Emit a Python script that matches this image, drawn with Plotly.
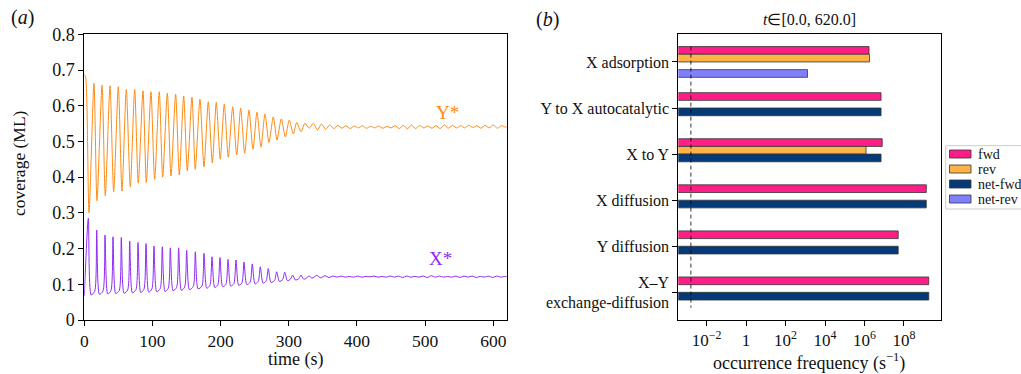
import plotly.graph_objects as go

# ---------------- data: panel (a) ----------------
# Y* coverage: successive extremes
y_t = [0.0, 2.0, 6.9,
       14.2, 18.6, 26.0, 30.8, 37.7, 43.1, 49.9, 55.3, 61.6, 67.5, 73.9, 79.2,
       86.1, 91.0, 97.8, 103.2, 110.0, 115.0, 121.8, 127.2, 134.0, 139.4,
       145.8, 151.1, 158.0, 162.8, 169.7, 175.6, 181.9, 187.8, 193.6, 199.5,
       205.4, 211.2, 217.7, 223.6, 229.4, 235.3, 241.6, 247.5, 253.3, 259.2,
       265.1, 270.9, 277.3, 282.7, 289.0, 294.9, 300.7, 306.6, 311.6, 317.9,
       323.7, 330.0, 336.0,
       342, 348, 354, 360, 366, 372, 378, 384, 390, 396, 402, 408, 414, 420,
       426, 432, 438, 444, 450, 456, 462, 468, 474, 480, 486, 492, 498, 504,
       510, 516, 522, 528, 534, 540, 546, 552, 558, 564, 570, 576, 582, 588,
       594, 600, 606, 612, 618, 620]
y_v = [0.688, 0.680, 0.300,
       0.663, 0.334, 0.658, 0.348, 0.656, 0.359, 0.653, 0.361, 0.646, 0.373,
       0.646, 0.383, 0.642, 0.385, 0.639, 0.394, 0.639, 0.400, 0.635, 0.403,
       0.632, 0.406, 0.627, 0.418, 0.624, 0.422, 0.618, 0.429, 0.611, 0.440,
       0.609, 0.450, 0.605, 0.456, 0.597, 0.462, 0.593, 0.467, 0.588, 0.478,
       0.582, 0.484, 0.577, 0.497, 0.569, 0.504, 0.563, 0.513, 0.560, 0.521,
       0.553, 0.527, 0.551, 0.537, 0.551,
       0.532, 0.549, 0.534, 0.546, 0.536, 0.545, 0.537, 0.544, 0.536, 0.543,
       0.538, 0.544, 0.537, 0.542, 0.538, 0.543, 0.537, 0.542, 0.538, 0.544,
       0.536, 0.545, 0.535, 0.546, 0.536, 0.545, 0.538, 0.543, 0.537, 0.544,
       0.536, 0.546, 0.537, 0.545, 0.538, 0.544, 0.538, 0.545, 0.539, 0.544,
       0.537, 0.545, 0.538, 0.546, 0.537, 0.544, 0.540, 0.541]

# X* coverage: spikes, trough bottoms and shoulders
x_t = [0.0,
       5.9, 10.0, 15.2, 18.2, 22.2, 27.4, 30.4, 34.4, 39.1, 42.1, 46.1, 51.3,
       54.3, 58.3, 63.6, 66.6, 70.6, 75.8, 78.8, 82.8, 87.5, 90.5, 94.5, 99.2,
       102.2, 106.2, 111.4, 114.4, 118.4, 123.2, 126.2, 130.2, 135.4,
       138.4, 142.4, 147.2, 150.2, 154.2, 159.9, 162.9, 166.9, 172.6,
       175.6, 179.6, 184.3, 187.3, 191.3, 196.0, 199.0, 203.0, 207.8,
       210.8, 214.8, 219.5, 222.5, 226.5, 231.3, 234.3, 238.3, 243.4,
       246.4, 250.4, 255.2, 258.2, 262.2, 266.9, 269.9, 273.9, 279.2,
       282.2, 286.2, 291.0, 294.0, 298.0, 302.7, 305.7, 309.7, 314.9,
       317.9, 321.9, 326.6, 329.6, 334.0,
       341, 347, 353, 359, 365, 371, 377, 383, 389, 395, 401, 407, 413, 419,
       425, 431, 437, 443, 449, 455, 461, 467, 473, 479, 485, 491, 497, 503,
       509, 515, 521, 527, 533, 539, 545, 551, 557, 563, 569, 575, 581, 587,
       593, 599, 605, 611, 617, 620]
x_v = [0.068,
       0.285, 0.070, 0.080, 0.252, 0.072, 0.081, 0.238, 0.073, 0.082,
       0.233, 0.074, 0.083, 0.231, 0.075, 0.084, 0.221, 0.076, 0.085,
       0.217, 0.077, 0.086, 0.214, 0.078, 0.087, 0.207, 0.079, 0.088,
       0.205, 0.080, 0.089, 0.202, 0.082, 0.091, 0.202, 0.083, 0.092,
       0.195, 0.085, 0.094, 0.191, 0.087, 0.095, 0.187, 0.089, 0.097,
       0.177, 0.091, 0.099, 0.175, 0.093, 0.100, 0.170, 0.095, 0.102,
       0.168, 0.097, 0.104, 0.162, 0.099, 0.106, 0.157, 0.101, 0.108,
       0.149, 0.103, 0.110, 0.144, 0.105, 0.111, 0.135, 0.108, 0.113,
       0.134, 0.110, 0.115, 0.126, 0.112, 0.116, 0.126, 0.114, 0.118,
       0.124, 0.117,
       0.125, 0.118, 0.124, 0.119, 0.123, 0.120, 0.123, 0.120, 0.122, 0.120,
       0.123, 0.120, 0.122, 0.121, 0.123, 0.120, 0.122, 0.120, 0.123, 0.120,
       0.123, 0.119, 0.123, 0.120, 0.122, 0.120, 0.123, 0.119, 0.124, 0.120,
       0.123, 0.120, 0.122, 0.120, 0.123, 0.119, 0.123, 0.120, 0.123, 0.119,
       0.122, 0.120, 0.123, 0.119, 0.123, 0.120, 0.122, 0.121]

# ---------------- data: panel (b) ----------------
processes = ["X adsorption", "Y to X autocatalytic", "X to Y",
             "X diffusion", "Y diffusion", "X\u2013Y<br>exchange-diffusion"]
fwd = [1.7e6, 6.9e6, 7.9e6, 1.35e9, 5.1e7, 1.8e9]
rev = [1.8e6, None, 1.2e6, None, None, None]
net_fwd = [None, 6.9e6, 6.9e6, 1.35e9, 5.1e7, 1.8e9]
net_rev = [1.3e3, None, None, None, None, None]
series_names = ["fwd", "rev", "net-fwd", "net-rev"]
t_window = 620.0
x_tickvals = [1e-2, 1, 1e2, 1e4, 1e6, 1e8]
x_ticktext = ["10<sup>\u22122</sup>", "1", "10<sup>2</sup>", "10<sup>4</sup>",
              "10<sup>6</sup>", "10<sup>8</sup>"]
cov_ticks = [0, 0.1, 0.2, 0.3, 0.4, 0.5, 0.6, 0.7, 0.8]
cov_ticktext = ["0", "0.1", "0.2", "0.3", "0.4", "0.5", "0.6", "0.7", "0.8"]

FONT = "Liberation Serif"
Y_COL = "#ff8a14"
X_COL = "#8f2bf5"
BAR_COLS = ["#ff1e87", "#ffb347", "#053a78", "#8080ff"]
EDGE = "#333333"
W, H = 1021, 374


def px(x):
    return x / W


def py(y):
    return 1 - y / H


fig = go.Figure()

fig.add_trace(go.Scatter(x=y_t, y=y_v, mode="lines",
                         line=dict(color=Y_COL, width=1, shape="spline", smoothing=0.7),
                         showlegend=False, xaxis="x", yaxis="y"))
fig.add_trace(go.Scatter(x=x_t, y=x_v, mode="lines",
                         line=dict(color=X_COL, width=1, shape="spline", smoothing=0.7),
                         showlegend=False, xaxis="x", yaxis="y"))

ypos = list(range(len(processes)))
for name, vals, col in zip(series_names, [fwd, rev, net_fwd, net_rev], BAR_COLS):
    fig.add_trace(go.Bar(y=ypos, x=vals, orientation="h", name=name,
                         marker=dict(color=col, line=dict(color=EDGE, width=0.8)),
                         showlegend=False, xaxis="x2", yaxis="y2"))

fig.add_trace(go.Scatter(x=[1 / t_window, 1 / t_window], y=[-1 / 3, 5 + 1 / 3], mode="lines",
                         line=dict(color="black", width=0.8, dash="4px,3px"),
                         showlegend=False, xaxis="x2", yaxis="y2"))

axis_common = dict(showline=True, linecolor="black", linewidth=1, mirror=True,
                   ticks="outside", ticklen=5, tickwidth=1, tickcolor="black",
                   showgrid=False, zeroline=False)


def label(text, x, y, size, **kw):
    d = dict(text=text, x=x, y=y, xref="paper", yref="paper", showarrow=False,
             xanchor="center", yanchor="middle", font=dict(size=size))
    d.update(kw)
    return d


# custom legend (matplotlib-like compact rows)
shapes = [dict(type="rect", xref="paper", yref="paper",
               x0=px(945.7), x1=px(1030), y0=py(209), y1=py(145.7),
               line=dict(color="#cccccc", width=1), fillcolor="white", layer="above")]
annotations = []
for i, (name, col) in enumerate(zip(series_names, BAR_COLS)):
    yc = 154 + 15 * i
    shapes.append(dict(type="rect", xref="paper", yref="paper",
                       x0=px(949.5), x1=px(971), y0=py(yc + 4), y1=py(yc - 4),
                       line=dict(color=EDGE, width=0.8), fillcolor=col, layer="above"))
    annotations.append(label(name, px(976), py(yc), 14, xanchor="left"))

annotations += [
    label("(<i>a</i>)", px(22), py(18), 20),
    label("(<i>b</i>)", px(547), py(20), 20),
    label("<i>t</i>\u2208[0.0, 620.0]", px(809), py(19.5), 16),
    label("coverage (ML)", px(19), py(163), 17.5, textangle=-90),
    label("time (s)", px(295.5), py(359), 18),
    label("occurrence frequency (s<sup>\u22121</sup>)", px(809), py(362), 18),
    dict(text="Y*", x=533, y=0.58, xref="x", yref="y", showarrow=False,
         xanchor="center", yanchor="middle", font=dict(size=19, color=Y_COL)),
    dict(text="X*", x=523, y=0.171, xref="x", yref="y", showarrow=False,
         xanchor="center", yanchor="middle", font=dict(size=19, color=X_COL)),
]

fig.update_layout(
    width=W, height=H,
    margin=dict(l=0, r=0, t=0, b=0, autoexpand=False),
    paper_bgcolor="white", plot_bgcolor="white",
    font=dict(family=FONT, color="#111111", size=16),
    barmode="group", bargap=0.333, bargroupgap=0,
    showlegend=False,
    xaxis=dict(domain=[px(84.3), px(506.9)], range=[0, 620],
               tickvals=[0, 100, 200, 300, 400, 500, 600],
               tickfont=dict(size=17.5), anchor="y", **axis_common),
    yaxis=dict(domain=[py(320), py(34.3)], range=[0, 0.8], tickvals=cov_ticks,
               ticktext=cov_ticktext, tickfont=dict(size=18), anchor="x", **axis_common),
    xaxis2=dict(domain=[px(678.3), px(940.7)], type="log", range=[-3.43, 9.86],
                tickvals=x_tickvals, ticktext=x_ticktext, tickfont=dict(size=17),
                anchor="y2", **axis_common),
    yaxis2=dict(domain=[py(320), py(34.3)], range=[5.6, -0.6], tickvals=ypos,
                ticktext=processes, tickfont=dict(size=16), anchor="x2", **axis_common),
    shapes=shapes,
    annotations=annotations,
)

fig.write_html("out.html", config={"displayModeBar": False},
               post_script="document.body.style.margin='0';document.body.style.overflow='hidden';")
